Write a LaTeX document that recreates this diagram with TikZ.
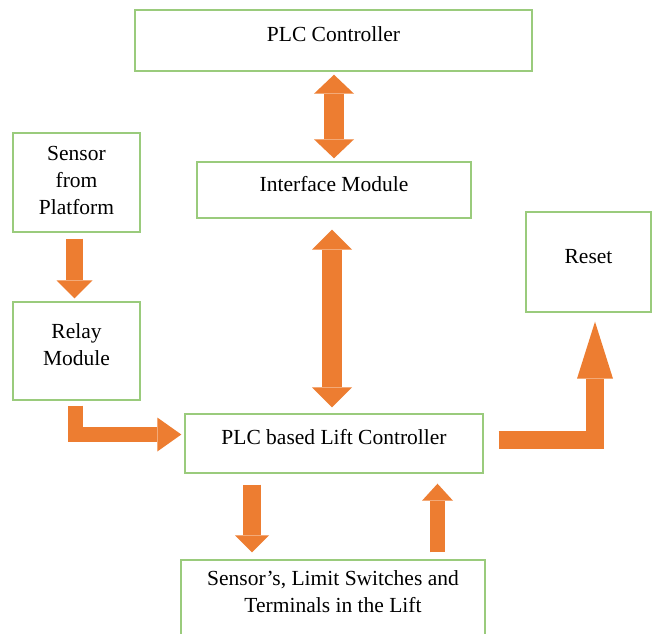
\documentclass[tikz,border=0pt]{standalone}
\usepackage{fontspec}
\setmainfont{Liberation Serif}
\usetikzlibrary{arrows.meta,calc}
\definecolor{boxgreen}{HTML}{9ACB7C}
\definecolor{arroworange}{HTML}{ED7D31}
\newcommand{\lowstrut}[1]{\rule[-#1]{0pt}{0pt}}
\begin{document}
\begin{tikzpicture}[x=1pt,y=-1pt,
  box/.style={draw=boxgreen,line width=1.4pt,fill=white,inner sep=0pt,align=center,
    font=\fontsize{21.5}{27}\selectfont},
  oneline/.style={text height=14pt,text depth=12pt},
  sarrow/.style n args={3}{draw=arroworange,line width=#1,line join=miter,
    -{Triangle[length=#2,width=#3,line width=0pt]}},
  darrow/.style n args={3}{draw=arroworange,line width=#1,
    {Triangle[length=#2,width=#3,line width=0pt]}-{Triangle[length=#2,width=#3,line width=0pt]}}]
\useasboundingbox[fill=white] (0,0) rectangle (653,633);

\node[box,oneline,minimum width=397pt,minimum height=61pt] (plc) at (333.5,40.5) {PLC Controller};
\node[box,oneline,minimum width=274pt,minimum height=56pt] (iface) at (334,190) {Interface Module};
\node[box,oneline,minimum width=125pt,minimum height=100pt] (reset) at (588.5,262) {Reset};
\node[box,oneline,minimum width=298pt,minimum height=59pt] (lift) at (334,443.5) {PLC based Lift Controller};
\node[box,minimum width=127pt,minimum height=99pt] (sensor) at (76.5,182.5) {Sensor\\from\\Platform\lowstrut{4pt}};
\node[box,minimum width=127pt,minimum height=98pt] (relay) at (76.5,351) {Relay\\Module\lowstrut{13pt}};
\node[box,minimum width=304pt,minimum height=76pt] (field) at (333,598) {Sensor’s, Limit Switches and\\Terminals in the Lift\lowstrut{12.5pt}};

\draw[darrow={20pt}{19pt}{40pt}] ($(plc.south -| iface.north)+(0,3)$) -- ($(iface.north)+(0,-3)$);
\draw[darrow={20pt}{20pt}{40pt}] ($(iface.south)+(-2,11)$) -- ($(lift.north)+(-2,-6)$);
\draw[sarrow={17pt}{18pt}{36pt}] ($(sensor.south)+(-2,6)$) -- ($(relay.north)+(-2,-3)$);
\draw[sarrow={15pt}{24pt}{34pt}] ($(relay.south)+(-1,5)$) |- ($(lift.west)+(-3,-9)$);
\draw[sarrow={18pt}{57pt}{36pt}] ($(lift.east)+(15,-3.5)$) -| ($(reset.south)+(6.5,9)$);
\draw[sarrow={18pt}{17pt}{34pt}] ($(lift.south)+(-82,11)$) -- ($(field.north)+(-81,-7)$);
\draw[sarrow={15pt}{17pt}{31pt}] ($(field.north)+(104.5,-7)$) -- ($(lift.south)+(103.5,10)$);
\end{tikzpicture}
\end{document}
